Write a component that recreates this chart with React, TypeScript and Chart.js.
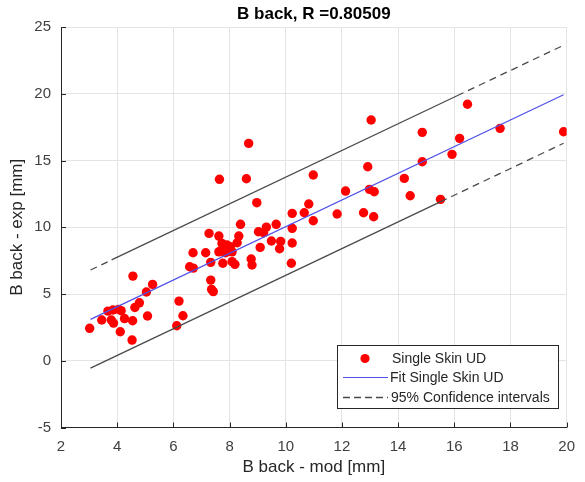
import React, { useEffect, useRef } from "react";
import { Chart, registerables } from "chart.js";

Chart.register(...registerables);

// ---- data ----
const modX = [
  3.02, 4.56, 5.26, 5.04, 4.79, 4.63, 3.67, 3.85, 4.05, 4.14, 3.45, 3.79, 3.87, 4.26, 4.55, 5.08, 4.11, 4.53,
  6.2, 6.34, 6.12, 6.7, 7.15, 7.33, 6.71, 6.58, 7.33, 7.36, 7.42, 7.27, 7.62, 8.33, 8.27, 7.73, 7.91, 8.03,
  7.73, 7.62, 7.86, 8.09, 7.76, 8.09, 8.19, 8.77, 8.8, 8.97, 8.39, 9.03, 9.21, 9.09, 8.68, 7.64, 8.6,
  10.98, 10.82, 10.66, 10.23, 10.98, 11.83, 12.13, 12.92, 12.98, 13.15, 12.77, 13.13, 9.66, 9.31, 10.23,
  9.49, 9.82, 9.78, 10.23, 10.2, 13.04, 14.86, 16.19, 16.47, 15.92, 14.86, 14.22, 14.43, 15.51, 17.63, 19.89,
];
const expY = [
  2.43, 6.34, 5.72, 5.15, 4.34, 3.99, 3.72, 3.8, 3.85, 3.75, 3.05, 3.05, 2.82, 3.16, 3.0, 3.35, 2.17, 1.55,
  4.47, 3.37, 2.62, 8.09, 8.09, 7.37, 6.94, 7.04, 6.04, 5.35, 5.18, 9.54, 9.34, 9.34, 8.84, 8.79, 8.67, 8.54,
  8.29, 8.16, 8.09, 8.16, 7.3, 7.42, 7.22, 7.62, 7.17, 11.84, 10.22, 9.66, 9.59, 8.49, 16.28, 13.59, 13.63,
  13.91, 11.74, 11.09, 11.04, 10.49, 10.99, 12.71, 14.53, 12.84, 12.66, 11.09, 10.79, 10.22, 10.01, 9.92,
  8.97, 8.94, 8.39, 8.82, 7.3, 18.03, 17.11, 16.66, 19.21, 15.46, 14.91, 13.66, 12.36, 12.09, 17.41, 17.15,
];
const fitX = [3.05, 19.89];
const fitY = [3.1, 19.93];
const upperX = [3.05, 3.8, 16.1, 19.89];
const upperY = [6.8, 7.55, 19.85, 23.63];
const lowerX = [3.05, 15.5, 19.89];
const lowerY = [-0.55, 11.9, 16.29];

const xTicks = [2, 4, 6, 8, 10, 12, 14, 16, 18, 20];
const yTicks = [-5, 0, 5, 10, 15, 20, 25];

const titleText = "B back, R =0.80509";
const xLabel = "B back - mod [mm]";
const yLabel = "B back - exp [mm]";
const legendLabels = ["Single Skin UD", "Fit Single Skin UD", "95% Confidence intervals"];

const FONT = "'Liberation Sans', Arial, sans-serif";
const AXIS = "#262626";
const BLUE = "#5050e8";
const CI = "#4a4a4a";

const zip = (xs: number[], ys: number[]) => xs.map((x, i) => ({ x, y: ys[i] }));

const decorPlugin = {
  id: "decor",
  afterDraw(chart: any) {
    const ctx = chart.ctx;
    const area = chart.chartArea;
    const xs = chart.scales.x;
    const ys = chart.scales.y;
    ctx.save();
    // inward ticks
    ctx.strokeStyle = AXIS;
    ctx.lineWidth = 1;
    ctx.beginPath();
    xTicks.forEach((v) => {
      const px = Math.round(xs.getPixelForValue(v)) + 0.5;
      ctx.moveTo(px, area.bottom);
      ctx.lineTo(px, area.bottom - 5);
    });
    yTicks.forEach((v) => {
      const py = Math.round(ys.getPixelForValue(v)) + 0.5;
      ctx.moveTo(area.left, py);
      ctx.lineTo(area.left + 5, py);
    });
    ctx.stroke();

    // title
    ctx.fillStyle = "#000";
    ctx.font = `bold 17px ${FONT}`;
    ctx.textAlign = "center";
    ctx.textBaseline = "middle";
    ctx.fillText(titleText, (area.left + area.right) / 2, 14);

    // axis titles
    ctx.fillStyle = AXIS;
    ctx.font = `17px ${FONT}`;
    ctx.fillText(xLabel, (area.left + area.right) / 2, 467);
    ctx.save();
    ctx.translate(17, (area.top + area.bottom) / 2);
    ctx.rotate(-Math.PI / 2);
    ctx.fillText(yLabel, 0, 0);
    ctx.restore();

    // legend
    const lx = 337, ly = 345, lw = 221, lh = 63;
    ctx.fillStyle = "#fff";
    ctx.fillRect(lx, ly, lw, lh);
    ctx.strokeStyle = AXIS;
    ctx.lineWidth = 1;
    ctx.strokeRect(lx + 0.5, ly + 0.5, lw, lh);

    ctx.fillStyle = "#ff0000";
    ctx.beginPath();
    ctx.arc(365, 358.5, 4.6, 0, Math.PI * 2);
    ctx.fill();

    ctx.strokeStyle = BLUE;
    ctx.lineWidth = 1.2;
    ctx.beginPath();
    ctx.moveTo(343, 377.5);
    ctx.lineTo(388, 377.5);
    ctx.stroke();

    ctx.strokeStyle = CI;
    ctx.lineWidth = 1.3;
    ctx.setLineDash([7, 4]);
    ctx.beginPath();
    ctx.moveTo(343, 397.5);
    ctx.lineTo(388, 397.5);
    ctx.stroke();
    ctx.setLineDash([]);

    ctx.fillStyle = AXIS;
    ctx.font = `14px ${FONT}`;
    ctx.textAlign = "left";
    ctx.fillText(legendLabels[0], 392, 359);
    ctx.fillText(legendLabels[1], 390, 378);
    ctx.fillText(legendLabels[2], 391, 398);
    ctx.restore();
  },
};

export default function App() {
  const ref = useRef<HTMLCanvasElement>(null);
  useEffect(() => {
    if (!ref.current) return;
    const chart = new Chart(ref.current, {
      type: "scatter",
      data: {
        datasets: [
          {
            type: "line",
            data: zip(fitX, fitY),
            borderColor: BLUE,
            borderWidth: 1.2,
            pointRadius: 0,
            showLine: true,
          } as any,
          {
            type: "line",
            data: zip(upperX, upperY),
            borderColor: CI,
            borderWidth: 1.3,
            pointRadius: 0,
            showLine: true,
            segment: { borderDash: (c: any) => (c.p0DataIndex === 1 ? [] : [7, 5]) },
          } as any,
          {
            type: "line",
            data: zip(lowerX, lowerY),
            borderColor: CI,
            borderWidth: 1.3,
            pointRadius: 0,
            showLine: true,
            segment: { borderDash: (c: any) => (c.p0DataIndex === 0 ? [] : [7, 5]) },
          } as any,
          {
            data: zip(modX, expY),
            backgroundColor: "#ff0000",
            borderWidth: 0,
            pointRadius: 4.7,
          },
        ],
      },
      options: {
        animation: false,
        responsive: false,
        layout: { padding: { left: 0, top: 27, right: 15.5, bottom: 0 } },
        plugins: { legend: { display: false }, tooltip: { enabled: false }, title: { display: false } },
        scales: {
          x: {
            type: "linear",
            min: 2,
            max: 20,
            afterFit: (s: any) => { s.height = 54.5; },
            afterBuildTicks: (s: any) => { s.ticks = xTicks.map((v) => ({ value: v })); },
            grid: { color: "#e4e4e4", drawTicks: false },
            border: { display: true, color: AXIS, width: 1 },
            ticks: { color: "#404040", font: { family: FONT, size: 15 }, padding: 10, maxRotation: 0 },
          },
          y: {
            type: "linear",
            min: -5,
            max: 25,
            afterFit: (s: any) => { s.width = 61; },
            afterBuildTicks: (s: any) => { s.ticks = yTicks.map((v) => ({ value: v })); },
            grid: { color: "#e4e4e4", drawTicks: false },
            border: { display: true, color: AXIS, width: 1 },
            ticks: { color: "#404040", font: { family: FONT, size: 15 }, padding: 10 },
          },
        },
      },
      plugins: [decorPlugin],
    });
    return () => chart.destroy();
  }, []);
  return (
    <div style={{ position: "fixed", left: 0, top: 0, width: 585, height: 482, background: "#fff" }}>
      <canvas ref={ref} width={585} height={482} />
    </div>
  );
}
